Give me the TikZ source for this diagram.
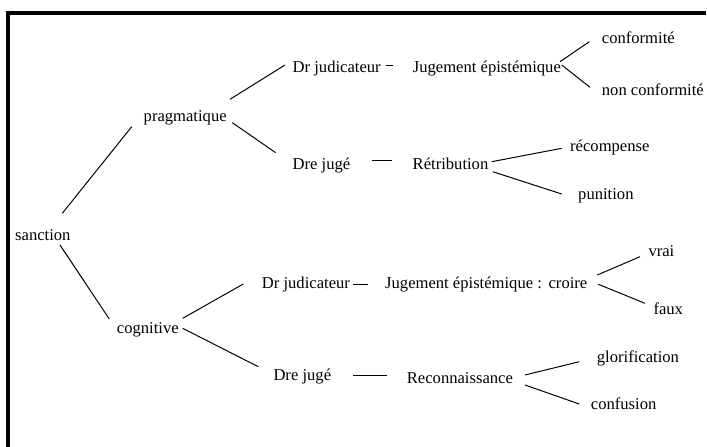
\documentclass[tikz,border=0pt]{standalone}
\usepackage{fontspec}
\setmainfont{Liberation Serif}
\begin{document}
\begin{tikzpicture}[x=1pt,y=-1pt,
  lbl/.style={anchor=base west,inner sep=0pt,font=\fontsize{16.6}{19}\selectfont},
  conn/.style={line width=1pt}]
\useasboundingbox (0,0) rectangle (707,447);
\draw[line width=4pt] (7.5,447) -- (7.5,12.5) -- (706,12.5);
% nodes
\node[lbl] (sanc) at (15,240) {sanction};
\node[lbl] (prag) at (143.5,121.5) {pragmatique};
\node[lbl] (dja) at (292.5,72.3) {Dr judicateur};
\node[lbl] (jea) at (412.7,72.3) {Jugement épistémique};
\node[lbl] (conf) at (601.7,43) {conformité};
\node[lbl] (nonc) at (601.7,95) {non conformité};
\node[lbl] (drea) at (292.5,169.3) {Dre jugé};
\node[lbl] (retr) at (412.5,169.3) {Rétribution};
\node[lbl] (reco) at (570,151) {récompense};
\node[lbl] (puni) at (578,199) {punition};
\node[lbl] (cogn) at (116.7,333) {cognitive};
\node[lbl] (djb) at (261.7,288.7) {Dr judicateur};
\node[lbl] (jeb) at (385,288.7) {Jugement épistémique :\hspace{0.4em}croire};
\node[lbl] (vrai) at (648.3,256) {vrai};
\node[lbl] (faux) at (653.3,314.5) {faux};
\node[lbl] (dreb) at (273.3,380) {Dre jugé};
\node[lbl] (reca) at (406.7,383) {Reconnaissance};
\node[lbl] (glor) at (596.7,362) {glorification};
\node[lbl] (conu) at (590.7,409) {confusion};
% connectors
\draw[conn] ([shift={(47.3,-26.7)}]sanc.base west) -- ([shift={(-11.8,5.2)}]prag.base west);
\draw[conn] ([shift={(86.5,-22.2)}]prag.base west) -- ([shift={(-7.5,-7.3)}]dja.base west);
\draw[conn] ([shift={(88.8,1.2)}]prag.base west) -- ([shift={(-16.8,-16.6)}]drea.base west);
\draw[conn] ([shift={(93.5,-7.3)}]dja.base west) -- ([shift={(-19.7,-7.3)}]jea.base west);
\draw[conn] ([shift={(147.3,-10.6)}]jea.base west) -- ([shift={(-12.4,-1.3)}]conf.base west);
\draw[conn] ([shift={(149,-7.3)}]jea.base west) -- ([shift={(-11.7,-7.7)}]nonc.base west);
\draw[conn] ([shift={(79.2,-8.6)}]drea.base west) -- ([shift={(-20.8,-8.6)}]retr.base west);
\draw[conn] ([shift={(79.2,-7.6)}]retr.base west) -- ([shift={(-8.3,-2.7)}]reco.base west);
\draw[conn] ([shift={(80.2,2.4)}]retr.base west) -- ([shift={(-16.3,-5)}]puni.base west);
\draw[conn] ([shift={(45,5)}]sanc.base west) -- ([shift={(-7.4,-14)}]cogn.base west);
\draw[conn] ([shift={(66,-14.7)}]cogn.base west) -- ([shift={(-18.4,-4.7)}]djb.base west);
\draw[conn] ([shift={(66,-4.7)}]cogn.base west) -- ([shift={(-15,-13.3)}]dreb.base west);
\draw[conn] ([shift={(91.6,-4)}]djb.base west) -- ([shift={(-16.7,-4)}]jeb.base west);
\draw[conn] ([shift={(212.3,-13.7)}]jeb.base west) -- ([shift={(-8.3,0.7)}]vrai.base west);
\draw[conn] ([shift={(213.3,-4.4)}]jeb.base west) -- ([shift={(-8.3,-11.2)}]faux.base west);
\draw[conn] ([shift={(80,-5)}]dreb.base west) -- ([shift={(-20,-8)}]reca.base west);
\draw[conn] ([shift={(118.3,-8)}]reca.base west) -- ([shift={(-17.4,-0.3)}]glor.base west);
\draw[conn] ([shift={(118.3,2)}]reca.base west) -- ([shift={(-11.4,-5)}]conu.base west);
\end{tikzpicture}
\end{document}
